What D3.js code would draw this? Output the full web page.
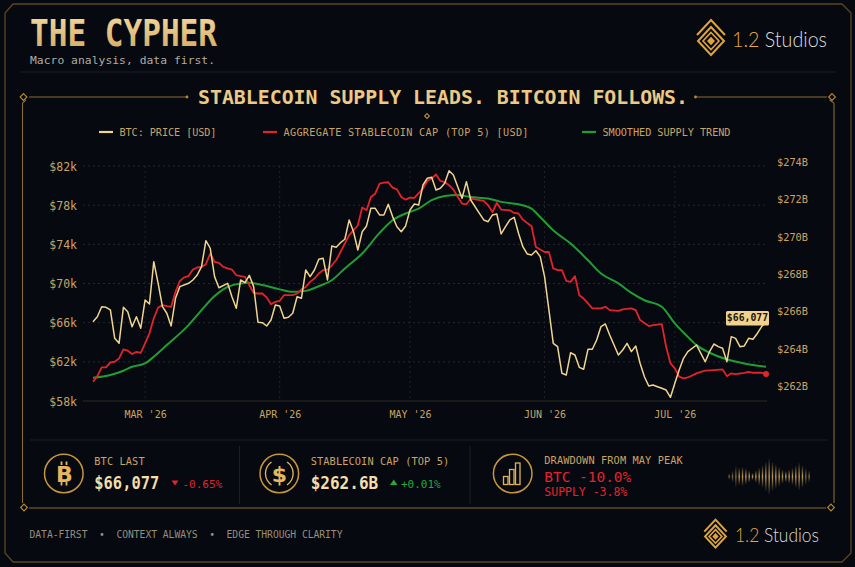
<!DOCTYPE html>
<html>
<head>
<meta charset="utf-8">
<script src="https://cdn.jsdelivr.net/npm/d3@7"></script>
<style>
  html, body { margin: 0; padding: 0; background: #060910; }
  svg { display: block; }
  text { font-family: "DejaVu Sans Mono", "Liberation Mono", monospace; }
</style>
</head>
<body>
<div id="container"></div>
<script>
// ---- data ----
// [day offset from 1 Mar 2026, value]
var btcPrice = [ // $k
  [-12,66.10],[-11,66.61],[-10,67.63],[-9,67.57],[-8,67.30],[-7,64.40],[-6,63.89],[-5,67.57],[-4,67.12],[-3,65.59],[-2,66.61],[-1,65.43],
  [0,68.32],[1,67.91],[2,72.23],[3,70.02],[4,67.63],[5,66.96],[6,65.66],[7,68.49],[8,69.68],[10,70.02],[11,70.36],[12,70.87],[13,71.72],
  [14,74.37],[15,73.60],[16,70.70],[17,69.57],[19,70.02],[20,68.65],[21,67.47],[22,70.36],[23,70.08],[24,70.84],[25,69.68],[26,66.04],
  [27,66.00],[28,65.66],[29,66.27],[30,67.81],[31,67.70],[32,66.45],[33,66.55],[34,66.96],[35,68.65],[36,68.49],[37,71.38],[38,70.70],
  [39,71.38],[40,72.47],[41,72.58],[42,70.36],[43,73.83],[44,73.70],[45,74.17],[46,74.52],[47,76.49],[48,75.29],[49,73.42],[50,75.29],
  [51,75.88],[52,77.68],[53,77.68],[54,77.00],[55,77.00],[56,78.09],[57,76.83],[58,75.80],[59,75.29],[60,75.88],[61,77.51],[62,78.12],
  [63,78.02],[64,80.06],[65,80.75],[66,80.85],[67,79.55],[68,79.73],[69,80.24],[70,81.52],[71,81.08],[72,79.89],[73,78.71],[74,80.40],
  [75,78.53],[77,77.17],[78,76.49],[79,76.31],[80,77.00],[81,77.10],[82,75.06],[83,75.80],[84,76.49],[85,76.76],[86,75.13],[87,73.76],
  [88,73.02],[89,72.91],[90,73.35],[91,72.74],[92,70.70],[93,67.30],[94,63.89],[95,63.55],[96,60.83],[97,60.66],[98,62.93],[99,62.70],
  [100,61.44],[101,61.24],[102,63.28],[103,63.28],[104,64.23],[105,65.60],[106,65.87],[107,64.74],[108,63.72],[109,62.70],[110,63.21],
  [111,63.89],[112,63.04],[113,63.62],[114,61.85],[115,60.48],[116,59.53],[117,59.63],[118,59.46],[119,59.30],[120,59.12],[121,58.38],
  [122,59.81],[123,61.17],[124,62.36],[125,63.04],[127,63.72],[128,62.87],[129,62.01],[130,63.04],[131,63.82],[132,63.55],[133,63.38],
  [134,62.01],[135,64.57],[136,64.40],[137,63.55],[138,63.62],[139,64.40],[140,64.30],[141,64.90],[142,65.60],[143,66.077]
]

var stableCap = [ // $B
  [-12,262.23],[-11,262.53],[-10,263.00],[-9,263.00],[-8,263.27],[-7,263.30],[-6,263.48],[-5,263.96],[-4,263.89],[-3,263.71],[-2,263.83],
  [-1,263.78],[0,264.28],[1,264.82],[2,265.62],[3,266.20],[4,266.33],[5,266.27],[6,266.24],[7,267.04],[8,267.62],[9,267.81],[10,267.88],
  [11,268.23],[12,268.34],[13,268.37],[14,268.52],[15,269.09],[16,268.64],[17,268.59],[18,268.37],[19,268.29],[20,268.23],[21,267.93],
  [22,267.88],[23,267.84],[24,267.40],[25,266.98],[26,266.95],[27,266.95],[28,266.74],[29,266.38],[30,266.50],[31,266.56],[32,266.86],
  [33,266.86],[34,266.86],[35,266.95],[36,267.17],[37,267.30],[38,267.57],[39,267.75],[40,268.02],[41,268.20],[42,268.23],[43,268.46],
  [44,268.73],[45,269.17],[46,269.62],[47,270.07],[48,270.33],[49,270.60],[50,271.55],[51,271.40],[52,272.11],[53,272.29],[54,272.83],
  [55,272.88],[56,272.90],[57,272.61],[58,272.52],[59,272.11],[60,271.97],[61,272.08],[62,272.06],[64,272.56],[65,272.97],[66,273.10],
  [67,273.32],[68,272.97],[69,272.91],[70,272.74],[71,272.51],[72,272.11],[73,271.76],[74,271.72],[75,272.03],[77,271.94],[78,271.90],
  [79,271.67],[80,271.31],[81,271.79],[82,271.44],[84,271.40],[85,271.26],[86,271.23],[87,270.90],[88,270.72],[89,270.55],[90,269.44],
  [91,269.30],[92,269.17],[93,269.17],[94,268.29],[95,268.20],[96,268.20],[97,267.62],[98,267.57],[99,267.88],[100,266.86],[101,266.68],
  [102,266.42],[103,266.15],[105,266.15],[106,266.24],[107,266.06],[109,266.02],[110,266.10],[112,266.15],[113,266.06],[114,265.53],
  [116,265.21],[117,265.26],[119,265.31],[120,264.10],[121,263.21],[122,262.95],[123,262.50],[124,262.41],[125,262.46],[127,262.68],
  [128,262.76],[129,262.82],[131,262.85],[133,262.89],[134,262.53],[135,262.68],[136,262.64],[138,262.71],[139,262.76],[140,262.71],
  [142,262.71],[143,262.64]
]

var supplyTrend = [ // $B
  [-12,262.44],[-8,262.59],[-5,262.82],[-3,263.03],[0,263.21],[2,263.57],[5,264.19],[10,265.26],[13,266.06],[16,266.81],[19,267.30],
  [22,267.49],[24,267.52],[27,267.40],[31,267.17],[34,267.04],[37,267.09],[40,267.34],[43,267.66],[46,268.29],[50,269.09],[54,270.19],
  [57,270.87],[60,271.23],[63,271.49],[66,271.94],[69,272.17],[72,272.22],[75,272.11],[79,272.03],[82,271.85],[86,271.72],[89,271.49],
  [91,271.04],[94,270.33],[98,269.62],[102,268.73],[105,268.02],[109,267.49],[112,266.98],[115,266.59],[119,266.24],[122,265.35],
  [125,264.63],[127,264.19],[130,263.78],[134,263.43],[138,263.21],[143,263.03]
]

var leftTicks = [58, 62, 66, 70, 74, 78, 82]
var rightTicks = [262, 264, 266, 268, 270, 272, 274]
var legendLabels = ["BTC: PRICE [USD]", "AGGREGATE STABLECOIN CAP (TOP 5) [USD]", "SMOOTHED SUPPLY TREND"]
var statLabels = ["BTC LAST", "STABLECOIN CAP (TOP 5)", "DRAWDOWN FROM MAY PEAK"]
var statValues = ["$66,077", "$262.6B"]
var statChanges = ["-0.65%", "+0.01%"]
var drawdownLines = ["BTC -10.0%", "SUPPLY -3.8%"]
var footerText = "DATA-FIRST  \u2022  CONTEXT ALWAYS  \u2022  EDGE THROUGH CLARITY"
// decorative waveform bar heights (px)
var waveBars = [2, 7, 17, 13, 15, 12, 8, 3, 8, 13, 18, 25, 32, 25, 20, 15, 10, 7, 10, 13, 18, 23, 18, 13, 8]

var W = 855, H = 567
var GOLD = "#c9a463", FRAME = "#5c4620", PANEL = "#8a6a2e", DIM = "#1b1e25"
var YELLOW = "#f1d58f", RED = "#e3232b", GREEN = "#1f9e34"

var svg = d3.select('#container').append('svg')
  .attr('width', W).attr('height', H)

var defs = svg.append('defs')
var tg = defs.append('linearGradient').attr('id', 'titleGrad')
  .attr('x1', 0).attr('y1', 0).attr('x2', 0).attr('y2', 1)
tg.append('stop').attr('offset', '0%').attr('stop-color', '#f6dca4')
tg.append('stop').attr('offset', '100%').attr('stop-color', '#d2a65a')
var wg = defs.append('linearGradient').attr('id', 'waveGrad')
  .attr('x1', 0).attr('y1', 0).attr('x2', 0).attr('y2', 1)
wg.append('stop').attr('offset', '0%').attr('stop-color', '#d8ad55').attr('stop-opacity', 0.05)
wg.append('stop').attr('offset', '50%').attr('stop-color', '#e2b860').attr('stop-opacity', 0.95)
wg.append('stop').attr('offset', '100%').attr('stop-color', '#d8ad55').attr('stop-opacity', 0.05)

svg.append('rect').attr('width', W).attr('height', H).attr('fill', '#060910')

// outer frame with clipped corners
svg.append('path')
  .attr('d', 'M13,4 H842 L851,13 V553 L842,562 H13 L5,553 V13 Z')
  .attr('fill', 'none').attr('stroke', FRAME).attr('stroke-width', 1.3)

// ---- header ----
svg.append('text').attr('x', 30).attr('y', 46)
  .attr('font-size', 38).attr('font-weight', 'bold')
  .attr('textLength', 187).attr('lengthAdjust', 'spacingAndGlyphs')
  .attr('fill', 'url(#titleGrad)').text('THE CYPHER')
svg.append('text').attr('x', 30).attr('y', 63.5)
  .attr('font-size', 11.3).attr('fill', '#b1ada3')
  .attr('textLength', 185).text('Macro analysis, data first.')
svg.append('line').attr('x1', 20).attr('x2', 835).attr('y1', 72).attr('y2', 72)
  .attr('stroke', DIM)

function drawLogo(g, cx, cy, s) {
  var c = "#dfa53c"
  var diamond = function (hw, hh, dy) {
    return 'M' + cx + ',' + (cy + dy - hh) + ' L' + (cx + hw) + ',' + (cy + dy) +
      ' L' + cx + ',' + (cy + dy + hh) + ' L' + (cx - hw) + ',' + (cy + dy) + ' Z'
  }
  g.append('path').attr('d', 'M' + (cx - 14 * s) + ',' + (cy - 3 * s) + ' L' + cx + ',' + (cy - 18 * s) +
      ' L' + (cx + 14 * s) + ',' + (cy - 3 * s))
    .attr('fill', 'none').attr('stroke', c).attr('stroke-width', 2)
  g.append('path').attr('d', diamond(13 * s, 14 * s, 3 * s))
    .attr('fill', 'none').attr('stroke', c).attr('stroke-width', 2)
  g.append('path').attr('d', diamond(8 * s, 8.5 * s, 3 * s))
    .attr('fill', 'none').attr('stroke', c).attr('stroke-width', 1.6)
  g.append('path').attr('d', diamond(4 * s, 4.3 * s, 3 * s)).attr('fill', c)
}
function drawBrand(x, y, size, len) {
  var t = svg.append('text').attr('x', x).attr('y', y)
    .attr('font-size', size).attr('font-weight', 300)
    .style('font-family', 'Lato, "Open Sans", sans-serif')
    .attr('textLength', len).attr('lengthAdjust', 'spacingAndGlyphs')
  t.append('tspan').attr('fill', '#e3a63a').text('1.2 ')
  t.append('tspan').attr('fill', '#dcdcdc').text('Studios')
}
drawLogo(svg.append('g'), 711, 38, 1)
drawBrand(732, 47, 21, 95)
drawLogo(svg.append('g'), 715.5, 534, 0.8)
drawBrand(735, 542, 19, 84)

// ---- chart panel frame ----
function smallDiamond(cx, cy, r, fill) {
  svg.append('path')
    .attr('d', 'M' + cx + ',' + (cy - r) + ' L' + (cx + r) + ',' + cy + ' L' + cx + ',' + (cy + r) + ' L' + (cx - r) + ',' + cy + ' Z')
    .attr('fill', fill || '#060910').attr('stroke', '#b88a38').attr('stroke-width', 1.1)
}
var panel = svg.append('g').attr('stroke', PANEL).attr('stroke-width', 1.1).attr('fill', 'none')
panel.append('path').attr('d', 'M29,97 H186 M696,97 H827 M22.5,103 V503 M834,103 V503 M29,508 H826 M26,100 L22.5,103 M829.5,100 L834,103')
svg.append('circle').attr('cx', 187).attr('cy', 97).attr('r', 1.4).attr('fill', '#b88a38')
svg.append('circle').attr('cx', 695.5).attr('cy', 97).attr('r', 1.4).attr('fill', '#b88a38')
smallDiamond(23.5, 97, 3.4)
smallDiamond(832, 97, 3.4)
smallDiamond(24, 507.5, 3.4)
smallDiamond(831, 507.5, 3.4)
smallDiamond(427, 116, 2.4)

svg.append('text').attr('x', 198).attr('y', 104)
  .attr('font-size', 19.5).attr('font-weight', 'bold')
  .attr('textLength', 490).attr('lengthAdjust', 'spacingAndGlyphs')
  .attr('fill', '#ecc984').text('STABLECOIN SUPPLY LEADS. BITCOIN FOLLOWS.')

// legend
var legendX = [99, 263, 582]
var legendColors = [YELLOW, RED, GREEN]
var legendLen = [97, 245, 128]
legendLabels.forEach(function (lab, i) {
  svg.append('line').attr('x1', legendX[i]).attr('x2', legendX[i] + 14)
    .attr('y1', 132).attr('y2', 132).attr('stroke', legendColors[i]).attr('stroke-width', 2.2)
  svg.append('text').attr('x', legendX[i] + 20.5).attr('y', 135.8)
    .attr('font-size', 10.2).attr('fill', GOLD)
    .attr('textLength', legendLen[i]).text(lab)
})

// ---- scales ----
var base = new Date(2026, 2, 1)
function dayToDate(d) { return d3.timeDay.offset(base, d) }

var x = d3.scaleTime()
  .domain([dayToDate(-12), dayToDate(143)])
  .range([93, 766])
var yL = d3.scaleLinear().domain([58, 82]).range([401, 166])
var yR = d3.scaleLinear().domain([261.2, 273.77]).range([401, 166])

var plot = svg.append('g')

// grid
plot.append('g').selectAll('line')
  .data(leftTicks.filter(function (t) { return t !== 58 }))
  .enter().append('line')
  .attr('x1', 83).attr('x2', 767)
  .attr('y1', d => yL(d)).attr('y2', d => yL(d))
  .attr('stroke', '#262830').attr('stroke-dasharray', '2,3')

var months = x.ticks(d3.timeMonth.every(1))
plot.append('g').selectAll('line')
  .data(months).enter().append('line')
  .attr('x1', d => x(d)).attr('x2', d => x(d))
  .attr('y1', 166).attr('y2', 401)
  .attr('stroke', '#22242b').attr('stroke-dasharray', '2,3')

plot.append('line').attr('x1', 83).attr('x2', 767).attr('y1', 401).attr('y2', 401)
  .attr('stroke', '#2f2b22').attr('stroke-width', 1)

// axes
var axisLeft = d3.axisLeft(yL).tickValues(leftTicks).tickSize(0).tickPadding(0)
  .tickFormat(d => '$' + d + 'k')
plot.append('g').attr('transform', 'translate(77,0)').call(axisLeft)
  .call(g => g.select('.domain').remove())
  .selectAll('text').attr('font-size', 11.5).attr('fill', GOLD).attr('dy', '0.36em')
  .style('font-family', '"DejaVu Sans Mono", monospace')

var axisRight = d3.axisRight(yR).tickValues(rightTicks).tickSize(0).tickPadding(0)
  .tickFormat(d => '$' + d + 'B')
plot.append('g').attr('transform', 'translate(777,0)').call(axisRight)
  .call(g => g.select('.domain').remove())
  .selectAll('text').attr('font-size', 10.3).attr('fill', GOLD).attr('dy', '0.36em')
  .style('font-family', '"DejaVu Sans Mono", monospace')

var fmtMonth = d3.timeFormat("%b '%y")
var axisBottom = d3.axisBottom(x).tickValues(months).tickSize(0).tickPadding(0)
  .tickFormat(d => fmtMonth(d).toUpperCase())
plot.append('g').attr('transform', 'translate(0,412)').call(axisBottom)
  .call(g => g.select('.domain').remove())
  .selectAll('text').attr('font-size', 10).attr('fill', GOLD).attr('dy', '0.6em')
  .style('font-family', '"DejaVu Sans Mono", monospace')

// lines
var lineL = d3.line().x(d => x(dayToDate(d[0]))).y(d => yL(d[1]))
var lineR = d3.line().x(d => x(dayToDate(d[0]))).y(d => yR(d[1]))
var lineSmooth = d3.line().x(d => x(dayToDate(d[0]))).y(d => yR(d[1])).curve(d3.curveMonotoneX)

plot.append('path').datum(supplyTrend).attr('d', lineSmooth)
  .attr('fill', 'none').attr('stroke', GREEN).attr('stroke-width', 2)
plot.append('path').datum(stableCap).attr('d', lineR)
  .attr('fill', 'none').attr('stroke', RED).attr('stroke-width', 1.8).attr('stroke-linejoin', 'round')
plot.append('path').datum(btcPrice).attr('d', lineL)
  .attr('fill', 'none').attr('stroke', YELLOW).attr('stroke-width', 1.5).attr('stroke-linejoin', 'round')

// end markers
var lastCap = stableCap[stableCap.length - 1]
plot.append('circle').attr('cx', x(dayToDate(lastCap[0]))).attr('cy', yR(lastCap[1]))
  .attr('r', 3).attr('fill', RED)

var lastBtc = btcPrice[btcPrice.length - 1]
var px = x(dayToDate(lastBtc[0])), py = yL(lastBtc[1])
plot.append('rect').attr('x', px - 40).attr('y', py - 11).attr('width', 43).attr('height', 14.5)
  .attr('rx', 1.5).attr('fill', '#f1d38e')
plot.append('text').attr('x', px - 18.5).attr('y', py - 0.6)
  .attr('text-anchor', 'middle').attr('font-size', 9.8).attr('font-weight', 'bold')
  .attr('fill', '#1c160b').text('$' + d3.format(',')(Math.round(lastBtc[1] * 1000)))

// ---- stat strip ----
svg.append('line').attr('x1', 30).attr('x2', 828).attr('y1', 440).attr('y2', 440).attr('stroke', DIM)
svg.append('line').attr('x1', 239.5).attr('x2', 239.5).attr('y1', 446).attr('y2', 504).attr('stroke', DIM)
svg.append('line').attr('x1', 470).attr('x2', 470).attr('y1', 446).attr('y2', 504).attr('stroke', DIM)

var iconX = [63.8, 279.3, 512.7]
iconX.forEach(function (cx) {
  svg.append('circle').attr('cx', cx).attr('cy', 473.5).attr('r', 19.3)
    .attr('fill', 'none').attr('stroke', '#c8963a').attr('stroke-width', 1.5)
})
// bitcoin glyph
var icon1 = svg.append('g').attr('stroke', '#e6b85e').attr('stroke-width', 1.8)
icon1.append('path').attr('d', 'M61.5,461.5 V465 M66.5,461.5 V465 M61.5,482 V485.5 M66.5,482 V485.5')
svg.append('text').attr('x', 64.5).attr('y', 481.5).attr('text-anchor', 'middle')
  .attr('font-size', 22).attr('font-weight', 'bold').attr('fill', '#e6b85e')
  .style('font-family', '"DejaVu Sans", sans-serif').text('B')
// dollar glyph with inner arcs
var arc = d3.arc().innerRadius(13.2).outerRadius(14.5)
svg.append('path').attr('transform', 'translate(279.3,473.5)')
  .attr('d', arc({ startAngle: -2.55, endAngle: -0.6 })).attr('fill', '#e6b85e')
svg.append('path').attr('transform', 'translate(279.3,473.5)')
  .attr('d', arc({ startAngle: 0.6, endAngle: 2.55 })).attr('fill', '#e6b85e')
svg.append('text').attr('x', 279.5).attr('y', 481.5).attr('text-anchor', 'middle')
  .attr('font-size', 22).attr('font-weight', 'bold').attr('fill', '#e6b85e')
  .style('font-family', '"DejaVu Sans", sans-serif').text('$')
// bar glyph
var bars = [[503.5, 476.5], [509.5, 469.5], [515.5, 463]]
svg.append('g').selectAll('rect').data(bars).enter().append('rect')
  .attr('x', d => d[0]).attr('y', d => d[1]).attr('width', 4.5).attr('height', d => 484.5 - d[1])
  .attr('fill', 'none').attr('stroke', '#e0b25a').attr('stroke-width', 1.3)

var textX = [94.3, 310.7, 544.3]
statLabels.forEach(function (lab, i) {
  svg.append('text').attr('x', textX[i]).attr('y', 465 - (i === 2 ? 1.5 : 0))
    .attr('font-size', 10.3).attr('fill', GOLD).attr('letter-spacing', 0.1).text(lab)
})
var valueLen = [65, 67.5]
statValues.forEach(function (v, i) {
  svg.append('text').attr('x', textX[i]).attr('y', 489)
    .attr('font-size', 17).attr('font-weight', 'bold').attr('fill', '#f3deaa')
    .attr('textLength', valueLen[i]).attr('lengthAdjust', 'spacingAndGlyphs').text(v)
})
// change markers
svg.append('path').attr('d', 'M171.5,480.5 L178.5,480.5 L175,485.5 Z').attr('fill', RED)
svg.append('text').attr('x', 182.5).attr('y', 487.5).attr('font-size', 11).attr('fill', RED).text(statChanges[0])
svg.append('path').attr('d', 'M390,485 L397.5,485 L393.75,479.5 Z').attr('fill', '#25a83a')
svg.append('text').attr('x', 401).attr('y', 487.5).attr('font-size', 11).attr('fill', '#25a83a').text(statChanges[1])

svg.append('text').attr('x', 544.3).attr('y', 481.5).attr('font-size', 14.5).attr('fill', RED)
  .attr('textLength', 87).text(drawdownLines[0])
svg.append('text').attr('x', 544.3).attr('y', 495.5).attr('font-size', 11.5).attr('fill', RED)
  .attr('textLength', 83).text(drawdownLines[1])

// waveform
svg.append('g').selectAll('rect').data(waveBars).enter().append('rect')
  .attr('x', (d, i) => 728.5 + i * 3.33).attr('y', d => 476.5 - d / 2 - 2)
  .attr('width', 1.4).attr('height', d => d + 4)
  .attr('fill', 'url(#waveGrad)')
  .attr('opacity', (d, i) => i < 3 || i > 22 ? 0.6 : 0.9)

// footer
svg.append('text').attr('x', 29.5).attr('y', 538)
  .attr('font-size', 9.7).attr('fill', '#968e7e')
  .attr('xml:space', 'preserve').style('white-space', 'pre')
  .attr('textLength', 313).text(footerText)
</script>
</body>
</html>
